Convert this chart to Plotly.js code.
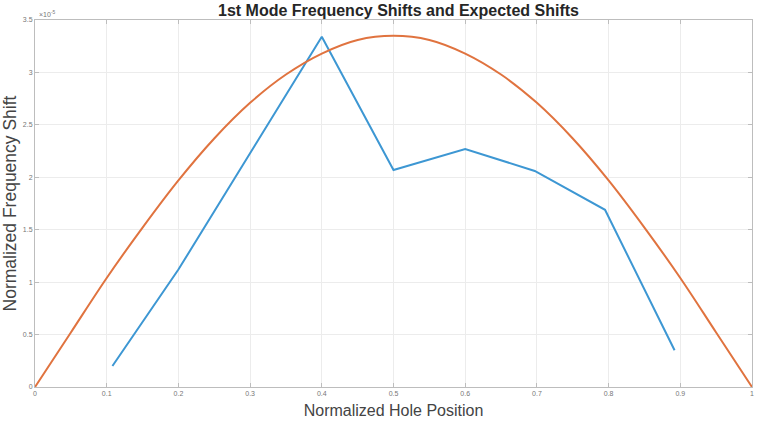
<!DOCTYPE html>
<html>
<head>
<meta charset="utf-8">
<script src="https://cdn.plot.ly/plotly-3.0.1.min.js"></script>
<style>
  html, body { margin: 0; padding: 0; background: #fff; }
  #chart { width: 759px; height: 425px; }
</style>
</head>
<body>
<div id="chart"></div>
<script>
// Measured shifts (units of 1e-5) at each hole position
const holePos = [0.108, 0.2, 0.4, 0.5, 0.6, 0.697, 0.795, 0.892];
const measuredShift = [0.20, 1.12, 3.34, 2.07, 2.27, 2.06, 1.69, 0.35];

// Expected shift curve (units of 1e-5)
const expectedPos = [0, 0.05, 0.1, 0.15, 0.2, 0.25, 0.3, 0.35, 0.4, 0.45, 0.5,
                     0.55, 0.6, 0.65, 0.7, 0.75, 0.8, 0.85, 0.9, 0.95, 1];
const expectedShift = [0, 0.52, 1.04, 1.52, 1.97, 2.37, 2.71, 2.98, 3.18, 3.31, 3.35,
                       3.31, 3.18, 2.98, 2.71, 2.37, 1.97, 1.52, 1.04, 0.52, 0];

const xTicks = [0, 0.1, 0.2, 0.3, 0.4, 0.5, 0.6, 0.7, 0.8, 0.9, 1];
const xTickText = ['0', '0.1', '0.2', '0.3', '0.4', '0.5', '0.6', '0.7', '0.8', '0.9', '1'];
const yTicks = [0, 0.5, 1, 1.5, 2, 2.5, 3, 3.5];
const yTickText = ['0', '0.5', '1', '1.5', '2', '2.5', '3', '3.5'];

const fontFam = 'Liberation Sans, Arial, Helvetica, sans-serif';

const traces = [
  {
    x: holePos, y: measuredShift, type: 'scatter', mode: 'lines',
    line: { color: '#3d97d3', width: 2 }, hoverinfo: 'skip'
  },
  {
    x: expectedPos, y: expectedShift, type: 'scatter', mode: 'lines',
    line: { color: '#e0733f', width: 2, shape: 'spline', smoothing: 1 }, hoverinfo: 'skip'
  }
];

const axisCommon = {
  showline: true, linecolor: '#bdbdbd', linewidth: 1, mirror: 'ticks',
  ticks: 'inside', ticklen: 4, tickcolor: '#bdbdbd',
  showgrid: true, gridcolor: '#ececec', gridwidth: 1,
  zeroline: false,
  tickfont: { family: fontFam, size: 7, color: '#777777' }
};

const layout = {
  width: 759, height: 425,
  margin: { l: 35, r: 7, t: 20, b: 38 },
  paper_bgcolor: '#ffffff', plot_bgcolor: '#ffffff',
  showlegend: false,
  title: {
    text: '<b>1st Mode Frequency Shifts and Expected Shifts</b>',
    font: { family: fontFam, size: 16, color: '#262626' },
    x: 0.525, xanchor: 'center', y: 0.988, yanchor: 'top'
  },
  xaxis: Object.assign({}, axisCommon, {
    range: [0, 1], tickvals: xTicks, ticktext: xTickText,
    title: { text: 'Normalized Hole Position', font: { family: fontFam, size: 16, color: '#444444' }, standoff: 8 }
  }),
  yaxis: Object.assign({}, axisCommon, {
    range: [0, 3.5], tickvals: yTicks, ticktext: yTickText,
    title: { text: 'Normalized Frequency Shift', font: { family: fontFam, size: 17.5, color: '#444444' }, standoff: 1 }
  }),
  annotations: [
    {
      text: '×10<sup>-5</sup>', xref: 'paper', yref: 'paper', x: 0.003, y: 1.0,
      xanchor: 'left', yanchor: 'bottom', showarrow: false,
      font: { family: fontFam, size: 7, color: '#777777' }
    }
  ]
};

Plotly.newPlot('chart', traces, layout, { staticPlot: true, displayModeBar: false });
</script>
</body>
</html>
